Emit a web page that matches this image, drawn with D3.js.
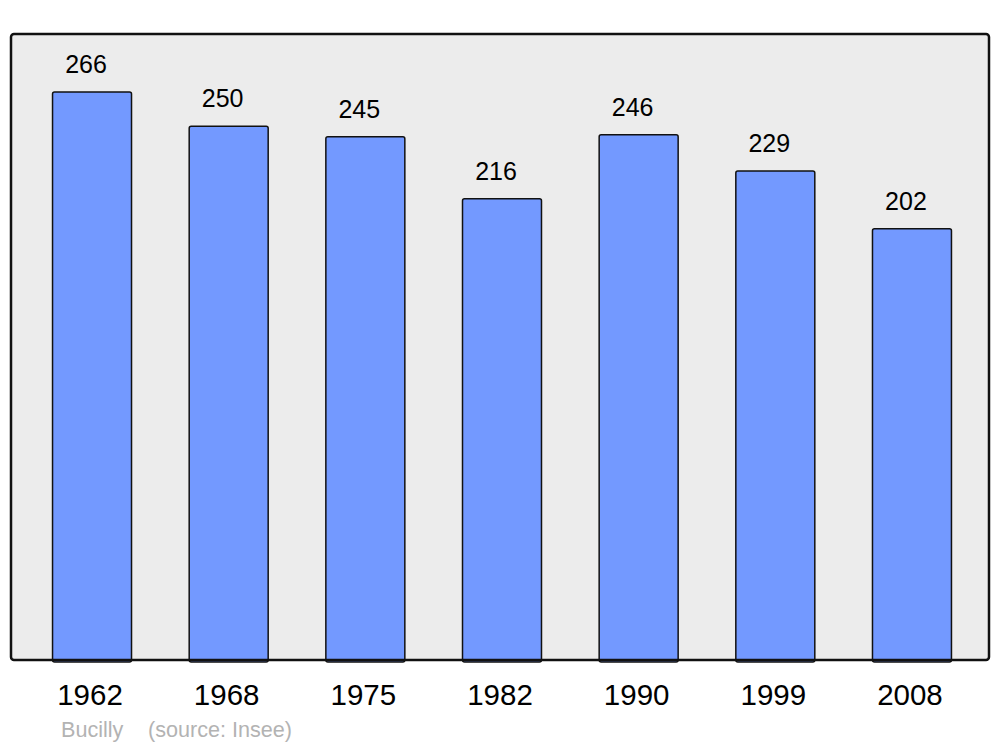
<!DOCTYPE html>
<html>
<head>
<meta charset="utf-8">
<script src="https://cdn.jsdelivr.net/npm/d3@7"></script>
<style>
  body { margin: 0; background: #fff; }
  text { font-family: "Liberation Sans", Arial, sans-serif; }
</style>
</head>
<body>
<script>
// population by census year
var years = ['1962', '1968', '1975', '1982', '1990', '1999', '2008']
var population = [266, 250, 245, 216, 246, 229, 202]
var town = 'Bucilly'
var source = '(source: Insee)'

var width = 1000, height = 747

var svg = d3.select('body')
  .append('svg')
  .attr('width', width)
  .attr('height', height)

var data = years.map(function (y, i) { return {year: y, value: population[i]} })

// plot background
svg.append('rect')
  .attr('x', 11)
  .attr('y', 34)
  .attr('width', 978)
  .attr('height', 626)
  .attr('rx', 3)
  .attr('fill', '#ececec')

var x = d3.scaleBand()
  .domain(years)
  .range([23.7, 980.3])
  .paddingInner(0.422)
  .paddingOuter(0.211)

var y = d3.scaleLinear()
  .domain([0, 266])
  .range([660, 92])

// bars
svg.selectAll('.bar')
    .data(data)
  .enter().append('rect')
    .attr('class', 'bar')
    .attr('x', function (d) { return x(d.year) })
    .attr('y', function (d) { return y(d.value) })
    .attr('width', x.bandwidth())
    .attr('height', function (d) { return y(0) - y(d.value) + 2 })
    .attr('rx', 2)
    .attr('fill', '#7399ff')
    .attr('stroke', '#111')
    .attr('stroke-width', 1.5)

// frame on top
svg.append('rect')
  .attr('x', 11)
  .attr('y', 34)
  .attr('width', 978)
  .attr('height', 626)
  .attr('rx', 3)
  .attr('fill', 'none')
  .attr('stroke', '#111')
  .attr('stroke-width', 2.5)

// value labels
svg.selectAll('.val')
    .data(data)
  .enter().append('text')
    .attr('class', 'val')
    .attr('x', function (d) { return x(d.year) + x.bandwidth() / 2 - 6 })
    .attr('y', function (d) { return y(d.value) - 19 })
    .attr('text-anchor', 'middle')
    .style('font-size', '25px')
    .text(function (d) { return d.value })

// year labels
svg.selectAll('.yr')
    .data(data)
  .enter().append('text')
    .attr('class', 'yr')
    .attr('x', function (d) { return x(d.year) + x.bandwidth() / 2 - 2 })
    .attr('y', 705)
    .attr('text-anchor', 'middle')
    .style('font-size', '29.5px')
    .text(function (d) { return d.year })

svg.append('text')
  .attr('x', 61)
  .attr('y', 737)
  .attr('fill', '#b3b3b3')
  .style('font-size', '21.6px')
  .text(town)

svg.append('text')
  .attr('x', 148)
  .attr('y', 737)
  .attr('fill', '#b3b3b3')
  .style('font-size', '21.6px')
  .text(source)
</script>
</body>
</html>
